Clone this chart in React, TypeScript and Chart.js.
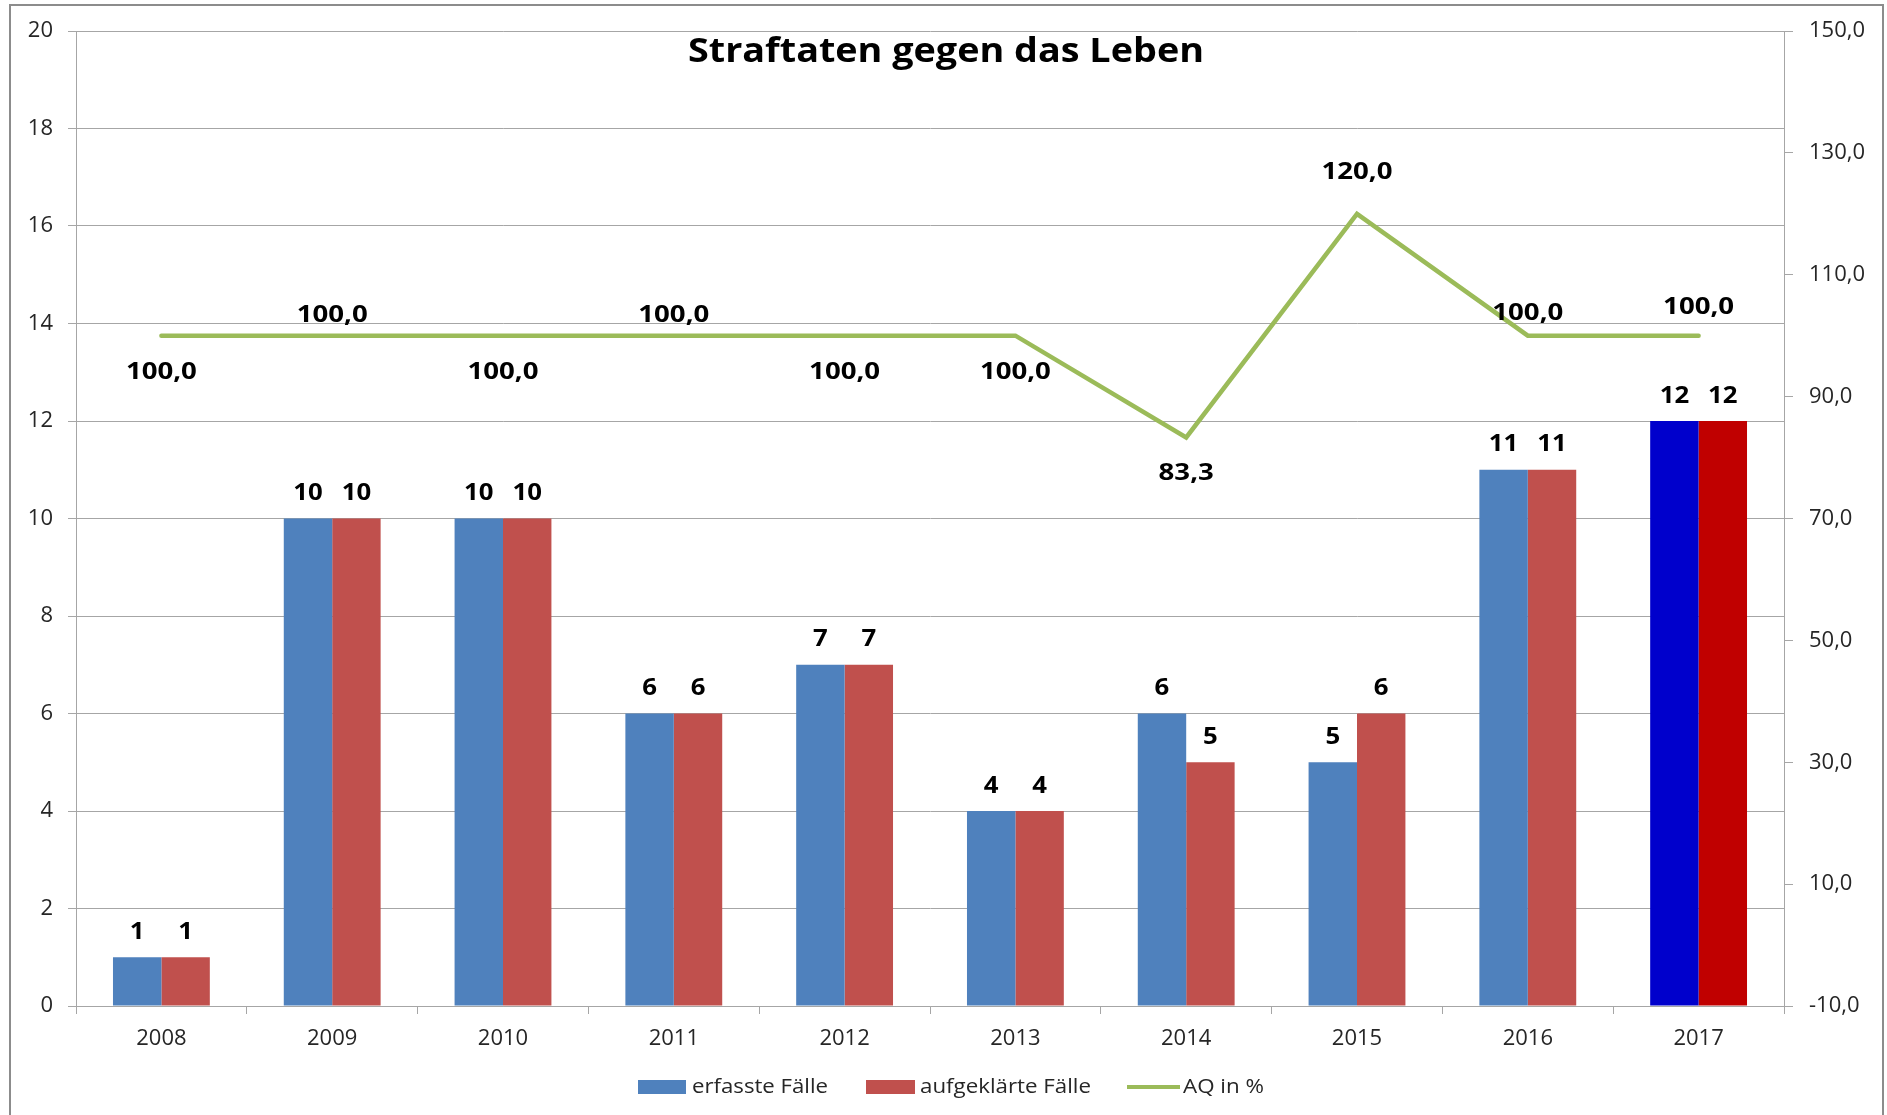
import React, { useEffect, useRef } from 'react';
import { Chart, registerables } from 'chart.js';

Chart.register(...registerables);

// ---------- data ----------
const categories = ['2008', '2009', '2010', '2011', '2012', '2013', '2014', '2015', '2016', '2017'];
const erfassteFaelle = [1, 10, 10, 6, 7, 4, 6, 5, 11, 12];
const aufgeklaerteFaelle = [1, 10, 10, 6, 7, 4, 5, 6, 11, 12];
const aqProzent = [100, 100, 100, 100, 100, 100, 83.3, 120, 100, 100];
const leftTicks = [0, 2, 4, 6, 8, 10, 12, 14, 16, 18, 20];
const rightTicks = [-10, 10, 30, 50, 70, 90, 110, 130, 150];
const chartTitle = 'Straftaten gegen das Leben';
const seriesNames = ['erfasste Fälle', 'aufgeklärte Fälle', 'AQ in %'];

// ---------- styles / layout (not data) ----------
const FONT = '"Open Sans", "Liberation Sans", sans-serif';
const GRID = '#A6A6A6';
const TEXT = '#262626';
const blueNormal = '#4F81BD';
const redNormal = '#C0504D';
const blueHighlight = '#0000CC';
const redHighlight = '#C00000';
const green = '#9BBB59';
const highlightCategory = '2017';
// baseline offset (px) of each AQ label relative to its point
const aqLabelDy = [43, -14, 43, -14, 43, 43, 43, -35, -16, -22];

const fmtComma = (v: number) => v.toFixed(1).replace('.', ',');

function stretchText(ctx: CanvasRenderingContext2D, text: string, x: number, y: number, sx: number, align: CanvasTextAlign) {
  ctx.save();
  ctx.translate(x, y);
  ctx.scale(sx, 1);
  ctx.textAlign = align;
  ctx.fillText(text, 0, 0);
  ctx.restore();
}

const overlayPlugin = {
  id: 'overlay',
  beforeDraw(chart: any) {
    const ctx: CanvasRenderingContext2D = chart.ctx;
    ctx.save();
    ctx.fillStyle = '#FFFFFF';
    ctx.fillRect(0, 0, chart.width, chart.height);
    ctx.strokeStyle = '#8C8C8C';
    ctx.lineWidth = 2;
    ctx.strokeRect(10, 5, 1873, chart.height + 20);
    ctx.restore();
  },
  afterDatasetsDraw(chart: any) {
    const ctx: CanvasRenderingContext2D = chart.ctx;
    ctx.save();
    ctx.fillStyle = '#000000';
    ctx.textBaseline = 'alphabetic';
    ctx.font = `bold 23px ${FONT}`;
    // bar labels
    [1, 2].forEach((di) => {
      const meta = chart.getDatasetMeta(di);
      const values = chart.data.datasets[di].data as number[];
      meta.data.forEach((el: any, i: number) => {
        stretchText(ctx, String(values[i]), el.x, el.y - 18.5, 1.12, 'center');
      });
    });
    // line labels
    const lmeta = chart.getDatasetMeta(0);
    const lvals = chart.data.datasets[0].data as number[];
    lmeta.data.forEach((el: any, i: number) => {
      stretchText(ctx, fmtComma(lvals[i]), el.x, el.y + aqLabelDy[i], 1.2, 'center');
    });

    // title
    ctx.font = `bold 34px ${FONT}`;
    const tw = ctx.measureText(chartTitle).width;
    stretchText(ctx, chartTitle, 946, 62, 516 / tw, 'center');

    // legend
    const ly = 1087;
    ctx.fillStyle = blueNormal;
    ctx.fillRect(638, ly - 7, 48, 14);
    ctx.fillStyle = redNormal;
    ctx.fillRect(866, ly - 7, 49, 14);
    ctx.strokeStyle = green;
    ctx.lineWidth = 4;
    ctx.beginPath();
    ctx.moveTo(1127, ly);
    ctx.lineTo(1180, ly);
    ctx.stroke();
    ctx.fillStyle = TEXT;
    ctx.font = `20px ${FONT}`;
    ctx.textBaseline = 'middle';
    const targets = [136, 171, 81];
    const starts = [692, 920, 1183];
    seriesNames.forEach((name, i) => {
      const w = ctx.measureText(name).width;
      stretchText(ctx, name, starts[i], ly, targets[i] / w, 'left');
    });
    ctx.restore();
  },
};

export default function App() {
  const ref = useRef<HTMLCanvasElement | null>(null);

  useEffect(() => {
    if (!ref.current) return;
    const chart = new Chart(ref.current, {
      type: 'bar',
      data: {
        labels: categories,
        datasets: [
          {
            type: 'line',
            label: seriesNames[2],
            data: aqProzent,
            yAxisID: 'y2',
            borderColor: green,
            backgroundColor: green,
            borderWidth: 4.5,
            pointRadius: 0,
            tension: 0,
            borderCapStyle: 'round',
            borderJoinStyle: 'miter',
            order: 0,
          } as any,
          {
            type: 'bar',
            label: seriesNames[0],
            data: erfassteFaelle,
            yAxisID: 'y',
            backgroundColor: categories.map((c) => (c === highlightCategory ? blueHighlight : blueNormal)),
            borderWidth: 0,
            categoryPercentage: 0.567,
            barPercentage: 1,
            order: 1,
          },
          {
            type: 'bar',
            label: seriesNames[1],
            data: aufgeklaerteFaelle,
            yAxisID: 'y',
            backgroundColor: categories.map((c) => (c === highlightCategory ? redHighlight : redNormal)),
            borderWidth: 0,
            categoryPercentage: 0.567,
            barPercentage: 1,
            order: 2,
          },
        ],
      },
      options: {
        responsive: false,
        animation: false,
        devicePixelRatio: 1,
        layout: { padding: { top: 31, left: 0, right: 0, bottom: 0 } },
        plugins: {
          legend: { display: false },
          title: { display: false },
          tooltip: { enabled: false },
        },
        scales: {
          x: {
            type: 'category',
            offset: true,
            grid: {
              offset: true,
              drawOnChartArea: false,
              drawTicks: true,
              tickLength: 8,
              color: GRID,
              lineWidth: 1,
            },
            border: { display: true, color: GRID, width: 1 },
            ticks: {
              color: TEXT,
              font: { family: FONT, size: 22 },
              padding: 12,
              maxRotation: 0,
              autoSkip: false,
            },
            afterFit: (s: any) => {
              s.height = 109;
            },
          },
          y: {
            position: 'left',
            min: 0,
            max: 20,
            afterBuildTicks: (axis: any) => {
              axis.ticks = leftTicks.map((v) => ({ value: v }));
            },
            grid: { color: GRID, lineWidth: 1, drawTicks: true, tickLength: 8 },
            border: { display: true, color: GRID, width: 1 },
            ticks: {
              color: TEXT,
              font: { family: FONT, size: 22 },
              padding: 15,
            },
            afterFit: (s: any) => {
              s.width = 76;
            },
          },
          y2: {
            position: 'right',
            min: -10,
            max: 150,
            afterBuildTicks: (axis: any) => {
              axis.ticks = rightTicks.map((v) => ({ value: v }));
            },
            grid: { drawOnChartArea: false, color: GRID, lineWidth: 1, drawTicks: true, tickLength: 9 },
            border: { display: true, color: GRID, width: 1 },
            ticks: {
              color: TEXT,
              font: { family: FONT, size: 22 },
              padding: 16,
              callback: (v: any) => fmtComma(Number(v)),
            },
            afterFit: (s: any) => {
              s.width = 103;
            },
          },
        },
      },
      plugins: [overlayPlugin],
    });
    return () => chart.destroy();
  }, []);

  return (
    <div style={{ position: 'fixed', left: 0, top: 0, width: 1887, height: 1115, background: '#fff' }}>
      <canvas ref={ref} width={1887} height={1115} style={{ display: 'block' }} />
    </div>
  );
}
